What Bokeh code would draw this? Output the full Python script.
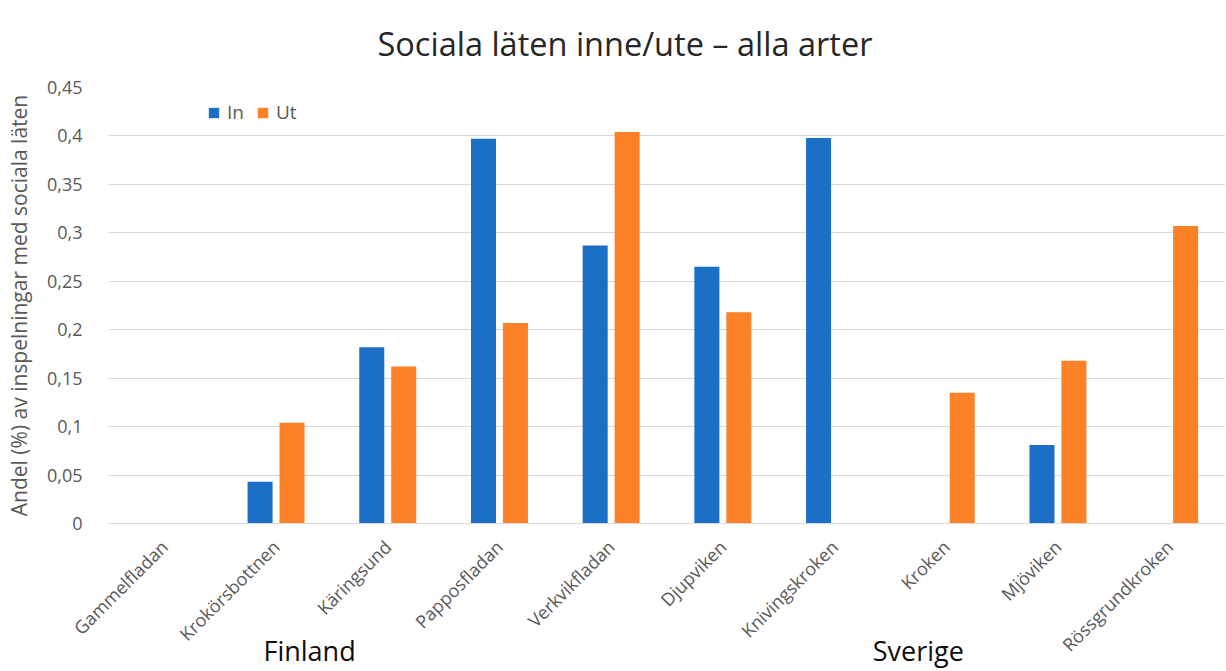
import math
from bokeh.plotting import figure
from bokeh.models import (Range1d, FixedTicker, CustomJSTickFormatter,
                          LinearAxis, Legend, LegendItem)
from bokeh.transform import dodge
from bokeh.embed import file_html
from bokeh.resources import INLINE

# Share of recordings with social calls, indoor vs outdoor, per site
sites = ["Gammelfladan", "Krokörsbottnen", "Käringsund", "Papposfladan", "Verkvikfladan",
         "Djupviken", "Knivingskroken", "Kroken", "Mjöviken", "Rössgrundkroken"]
inne = [0.0, 0.043, 0.182, 0.397, 0.287, 0.265, 0.398, 0.0, 0.081, 0.0]
ute = [0.0, 0.104, 0.162, 0.207, 0.404, 0.218, 0.0, 0.135, 0.168, 0.307]
y_ticks = [0, 0.05, 0.1, 0.15, 0.2, 0.25, 0.3, 0.35, 0.4, 0.45]
regions = ["Finland", "Sverige"]
region_pos = [1.80, 7.25]   # position along the site axis (one unit per site)
title_text = "Sociala läten inne/ute – alla arter"

FONT = "Open Sans"
BLUE = "#1C6FC7"
ORANGE = "#FD8126"
GREY_TXT = "#595959"

# one unit per site, each site centred in its slot
site_pos = [i + 0.5 for i in range(len(sites))]

p = figure(width=1226, height=671, x_range=Range1d(0, len(sites)), y_range=Range1d(0, 0.45),
           output_backend="svg", toolbar_location=None,
           min_border_left=108, min_border_right=1, min_border_top=87, min_border_bottom=148)
p.outline_line_color = None
p.background_fill_color = "white"

src = dict(pos=site_pos, site=sites, inne=inne, ute=ute)
r_in = p.vbar(x=dodge("pos", -0.143), top="inne", width=0.224,
              source=src, fill_color=BLUE, line_color=None)
r_ut = p.vbar(x=dodge("pos", 0.143), top="ute", width=0.224,
              source=src, fill_color=ORANGE, line_color=None)

# Title
p.title.text = title_text
p.title.text_font = FONT
p.title.text_font_size = "32.5px"
p.title.text_font_style = "normal"
p.title.text_color = "#262626"
p.title.align = "left"
p.title.offset = 269
p.title.vertical_align = "top"
p.title.standoff = 40

# Y axis
ya = p.yaxis[0]
ya.ticker = FixedTicker(ticks=y_ticks)
ya.formatter = CustomJSTickFormatter(
    code="return tick.toFixed(2).replace(/0+$/, '').replace(/\\.$/, '').replace('.', ',');")
ya.axis_line_color = None
ya.major_tick_line_color = None
ya.minor_tick_line_color = None
ya.major_label_text_font = FONT
ya.major_label_text_font_size = "18px"
ya.major_label_text_color = GREY_TXT
ya.major_label_standoff = 20
ya.axis_label = "Andel (%) av inspelningar med sociala läten"
ya.axis_label_text_font = FONT
ya.axis_label_text_font_size = "21px"
ya.axis_label_text_font_style = "normal"
ya.axis_label_text_color = GREY_TXT
ya.axis_label_standoff = 11

# X axis (site names)
xa = p.xaxis[0]
xa.ticker = FixedTicker(ticks=site_pos)
xa.major_label_overrides = {pos: name for pos, name in zip(site_pos, sites)}
xa.axis_line_color = "#D9D9D9"
xa.major_tick_line_color = None
xa.minor_tick_line_color = None
xa.major_label_text_font = FONT
xa.major_label_text_font_size = "18px"
xa.major_label_text_color = GREY_TXT
xa.major_label_orientation = math.pi / 4
xa.major_label_standoff = 14

# Second axis below carrying the country names, pulled up beside the site names
ra = LinearAxis(ticker=FixedTicker(ticks=region_pos),
                major_label_overrides={pos: name for pos, name in zip(region_pos, regions)})
ra.axis_line_color = None
ra.major_tick_line_color = None
ra.minor_tick_line_color = None
ra.major_label_text_font = FONT
ra.major_label_text_font_size = "27px"
ra.major_label_text_color = "#0D0D0D"
ra.major_label_standoff = -42
p.add_layout(ra, "below")

p.xgrid.grid_line_color = None
p.ygrid.grid_line_color = "#D9D9D9"
p.ygrid.ticker = FixedTicker(ticks=y_ticks)

# Legend
legend = Legend(items=[LegendItem(label="In", renderers=[r_in]),
                       LegendItem(label="Ut", renderers=[r_ut])],
                orientation="horizontal", location=(99, 398))
legend.border_line_color = None
legend.background_fill_alpha = 0
legend.label_text_font = FONT
legend.label_text_font_size = "19px"
legend.label_text_color = GREY_TXT
legend.glyph_width = 13
legend.glyph_height = 13
legend.label_standoff = 7
legend.spacing = 9
legend.padding = 0
legend.margin = 0
p.add_layout(legend)

open("out.html", "w").write(file_html(p, INLINE))
